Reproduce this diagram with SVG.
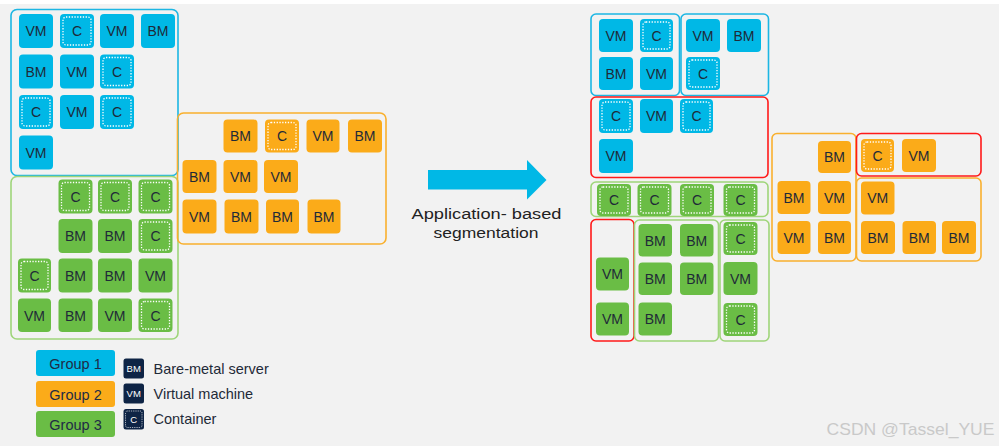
<svg xmlns="http://www.w3.org/2000/svg" width="999" height="446" viewBox="0 0 999 446">
<style>
.bg{fill:#f2f2f2}
.box{fill:none;stroke-width:1.6}
.bb{stroke:#1cb6e3}.gb{stroke:#9fd57a}.ob{stroke:#f9b02e}.rb{stroke:#ff1a1a}
.b{fill:#00b8e6}.g{fill:#6abd45}.o{fill:#fbab19}
.dot{fill:none;stroke:#ffffff;stroke-width:1.3;stroke-dasharray:1.3 1.5}
.t{font-family:"Liberation Sans",Arial,sans-serif;font-size:14px;fill:#1f2a38;text-anchor:middle}
.lg{font-family:"Liberation Sans",Arial,sans-serif;font-size:14.5px;fill:#1f2b45;text-anchor:middle}
.ll{font-family:"Liberation Sans",Arial,sans-serif;font-size:14.5px;fill:#1f2a38}
.li{fill:#0e2445}
.lt{font-family:"Liberation Sans",Arial,sans-serif;font-size:9.5px;fill:#ffffff;text-anchor:middle}
.lbl{font-family:"Liberation Sans",Arial,sans-serif;font-size:15.5px;fill:#222222;text-anchor:middle}
.wm{font-family:"Liberation Sans",Arial,sans-serif;font-size:17px;fill:#c9c9c9}
</style>
<rect x="0" y="0" width="999" height="446" class="bg"/>
<rect x="0" y="0" width="999" height="4" fill="#ffffff"/>

<!-- LEFT: group boxes -->
<g id="left-blue-group"><rect class="box bb" x="11" y="9.5" width="167" height="166" rx="6"/></g>
<g id="left-green-group"><rect class="box gb" x="11" y="176.5" width="167" height="162.5" rx="6"/></g>
<g id="left-orange-group"><rect class="box ob" x="177.5" y="113" width="208.5" height="131" rx="6"/></g>

<!-- left blue tiles -->
<g id="lb1"><rect class="b" x="19" y="14" width="34" height="34" rx="4"/><text class="t" x="36" y="36">VM</text></g>
<g id="lb2"><rect class="b" x="60" y="14" width="34" height="34" rx="4"/><rect class="dot" x="63" y="17" width="28" height="28" rx="3"/><text class="t" x="77" y="36">C</text></g>
<g id="lb3"><rect class="b" x="100" y="14" width="34" height="34" rx="4"/><text class="t" x="117" y="36">VM</text></g>
<g id="lb4"><rect class="b" x="141" y="14" width="34" height="34" rx="4"/><text class="t" x="158" y="36">BM</text></g>
<g id="lb5"><rect class="b" x="19" y="54.5" width="34" height="34" rx="4"/><text class="t" x="36" y="76.5">BM</text></g>
<g id="lb6"><rect class="b" x="60" y="54.5" width="34" height="34" rx="4"/><text class="t" x="77" y="76.5">VM</text></g>
<g id="lb7"><rect class="b" x="100" y="54.5" width="34" height="34" rx="4"/><rect class="dot" x="103" y="57.5" width="28" height="28" rx="3"/><text class="t" x="117" y="76.5">C</text></g>
<g id="lb8"><rect class="b" x="19" y="95" width="34" height="34" rx="4"/><rect class="dot" x="22" y="98" width="28" height="28" rx="3"/><text class="t" x="36" y="117">C</text></g>
<g id="lb9"><rect class="b" x="60" y="95" width="34" height="34" rx="4"/><text class="t" x="77" y="117">VM</text></g>
<g id="lb10"><rect class="b" x="100" y="95" width="34" height="34" rx="4"/><rect class="dot" x="103" y="98" width="28" height="28" rx="3"/><text class="t" x="117" y="117">C</text></g>
<g id="lb11"><rect class="b" x="19" y="135.5" width="34" height="34" rx="4"/><text class="t" x="36" y="157.5">VM</text></g>

<!-- left green tiles -->
<g id="lg1"><rect class="g" x="58.5" y="179.5" width="34" height="34" rx="4"/><rect class="dot" x="61.5" y="182.5" width="28" height="28" rx="3"/><text class="t" x="75.5" y="201.5">C</text></g>
<g id="lg2"><rect class="g" x="98" y="179.5" width="34" height="34" rx="4"/><rect class="dot" x="101" y="182.5" width="28" height="28" rx="3"/><text class="t" x="115" y="201.5">C</text></g>
<g id="lg3"><rect class="g" x="138.5" y="179.5" width="34" height="34" rx="4"/><rect class="dot" x="141.5" y="182.5" width="28" height="28" rx="3"/><text class="t" x="155.5" y="201.5">C</text></g>
<g id="lg4"><rect class="g" x="58.5" y="219" width="34" height="34" rx="4"/><text class="t" x="75.5" y="241">BM</text></g>
<g id="lg5"><rect class="g" x="98" y="219" width="34" height="34" rx="4"/><text class="t" x="115" y="241">BM</text></g>
<g id="lg6"><rect class="g" x="138.5" y="219" width="34" height="34" rx="4"/><rect class="dot" x="141.5" y="222" width="28" height="28" rx="3"/><text class="t" x="155.5" y="241">C</text></g>
<g id="lg7"><rect class="g" x="18" y="258.5" width="33" height="34" rx="4"/><rect class="dot" x="21" y="261.5" width="27" height="28" rx="3"/><text class="t" x="34.5" y="280.5">C</text></g>
<g id="lg8"><rect class="g" x="58.5" y="258.5" width="34" height="34" rx="4"/><text class="t" x="75.5" y="280.5">BM</text></g>
<g id="lg9"><rect class="g" x="98" y="258.5" width="34" height="34" rx="4"/><text class="t" x="115" y="280.5">BM</text></g>
<g id="lg10"><rect class="g" x="138.5" y="258.5" width="34" height="34" rx="4"/><text class="t" x="155.5" y="280.5">VM</text></g>
<g id="lg11"><rect class="g" x="18" y="298.5" width="33" height="33.5" rx="4"/><text class="t" x="34.5" y="320.5">VM</text></g>
<g id="lg12"><rect class="g" x="58.5" y="298.5" width="34" height="33.5" rx="4"/><text class="t" x="75.5" y="320.5">BM</text></g>
<g id="lg13"><rect class="g" x="98" y="298.5" width="34" height="33.5" rx="4"/><text class="t" x="115" y="320.5">VM</text></g>
<g id="lg14"><rect class="g" x="138.5" y="298.5" width="34" height="33.5" rx="4"/><rect class="dot" x="141.5" y="301.5" width="28" height="27.5" rx="3"/><text class="t" x="155.5" y="320.5">C</text></g>

<!-- left orange tiles -->
<g id="lo1"><rect class="o" x="223.5" y="119.5" width="34" height="33" rx="4"/><text class="t" x="240.5" y="141">BM</text></g>
<g id="lo2"><rect class="o" x="265" y="119.5" width="34" height="33" rx="4"/><rect class="dot" x="268" y="122.5" width="28" height="27" rx="3"/><text class="t" x="282" y="141">C</text></g>
<g id="lo3"><rect class="o" x="306.5" y="119.5" width="33" height="33" rx="4"/><text class="t" x="323" y="141">VM</text></g>
<g id="lo4"><rect class="o" x="348" y="119.5" width="34" height="33" rx="4"/><text class="t" x="365" y="141">BM</text></g>
<g id="lo5"><rect class="o" x="182.5" y="160" width="34" height="33" rx="4"/><text class="t" x="199.5" y="181.5">BM</text></g>
<g id="lo6"><rect class="o" x="223.5" y="160" width="34" height="33" rx="4"/><text class="t" x="240.5" y="181.5">VM</text></g>
<g id="lo7"><rect class="o" x="264" y="160" width="34" height="33" rx="4"/><text class="t" x="281" y="181.5">VM</text></g>
<g id="lo8"><rect class="o" x="182.5" y="199.5" width="34" height="34" rx="4"/><text class="t" x="199.5" y="221.5">VM</text></g>
<g id="lo9"><rect class="o" x="224.5" y="199.5" width="34" height="34" rx="4"/><text class="t" x="241.5" y="221.5">BM</text></g>
<g id="lo10"><rect class="o" x="266" y="199.5" width="33" height="34" rx="4"/><text class="t" x="282.5" y="221.5">BM</text></g>
<g id="lo11"><rect class="o" x="307.5" y="199.5" width="33" height="34" rx="4"/><text class="t" x="324" y="221.5">BM</text></g>

<!-- arrow + label -->
<g id="arrow">
<polygon points="428,170 527,170 527,160 546.5,180 527,199.5 527,189.5 428,189.5" fill="#00b8e6"/>
<text class="lbl" x="486.5" y="218.5" textLength="150" lengthAdjust="spacingAndGlyphs">Application- based</text>
<text class="lbl" x="486" y="238" textLength="105" lengthAdjust="spacingAndGlyphs">segmentation</text>
</g>

<!-- RIGHT: group boxes -->
<g id="r-blue1-group"><rect class="box bb" x="591" y="14" width="88.5" height="81.5" rx="5"/></g>
<g id="r-blue2-group"><rect class="box bb" x="681" y="14" width="87.5" height="81.5" rx="5"/></g>
<g id="r-red1-group"><rect class="box rb" x="591" y="97" width="177" height="80.5" rx="5"/></g>
<g id="r-green1-group"><rect class="box gb" x="591" y="182" width="177" height="34.5" rx="5"/></g>
<g id="r-red2-group"><rect class="box rb" x="591" y="219.5" width="43" height="121.5" rx="5"/></g>
<g id="r-green2-group"><rect class="box gb" x="634.5" y="220" width="84" height="121" rx="5"/></g>
<g id="r-green3-group"><rect class="box gb" x="720" y="220" width="49" height="121" rx="5"/></g>
<g id="r-orange1-group"><rect class="box ob" x="772" y="133.5" width="84" height="127.5" rx="5"/></g>
<g id="r-red3-group"><rect class="box rb" x="856.5" y="133.5" width="124.5" height="42.5" rx="5"/></g>
<g id="r-orange2-group"><rect class="box ob" x="856.5" y="178" width="124.5" height="83" rx="5"/></g>

<!-- right blue tiles -->
<g id="rb1"><rect class="b" x="599" y="19" width="34" height="33" rx="4"/><text class="t" x="616" y="40.5">VM</text></g>
<g id="rb2"><rect class="b" x="640" y="19" width="33" height="33" rx="4"/><rect class="dot" x="643" y="22" width="27" height="27" rx="3"/><text class="t" x="656.5" y="40.5">C</text></g>
<g id="rb3"><rect class="b" x="599" y="57" width="34" height="33" rx="4"/><text class="t" x="616" y="78.5">BM</text></g>
<g id="rb4"><rect class="b" x="640" y="57" width="33" height="33" rx="4"/><text class="t" x="656.5" y="78.5">VM</text></g>
<g id="rb5"><rect class="b" x="686" y="19" width="34" height="33" rx="4"/><text class="t" x="703" y="40.5">VM</text></g>
<g id="rb6"><rect class="b" x="727" y="19" width="34" height="33" rx="4"/><text class="t" x="744" y="40.5">BM</text></g>
<g id="rb7"><rect class="b" x="686" y="57" width="34" height="33" rx="4"/><rect class="dot" x="689" y="60" width="28" height="27" rx="3"/><text class="t" x="703" y="78.5">C</text></g>
<g id="rb8"><rect class="b" x="599" y="99" width="34" height="34" rx="4"/><rect class="dot" x="602" y="102" width="28" height="28" rx="3"/><text class="t" x="616" y="121">C</text></g>
<g id="rb9"><rect class="b" x="640" y="99" width="33" height="34" rx="4"/><text class="t" x="656.5" y="121">VM</text></g>
<g id="rb10"><rect class="b" x="680" y="99" width="33" height="34" rx="4"/><rect class="dot" x="683" y="102" width="27" height="28" rx="3"/><text class="t" x="696.5" y="121">C</text></g>
<g id="rb11"><rect class="b" x="599" y="139" width="34" height="34" rx="4"/><text class="t" x="616" y="161">VM</text></g>

<!-- right green tiles -->
<g id="rg1"><rect class="g" x="597" y="184" width="34" height="32" rx="4"/><rect class="dot" x="600" y="187" width="28" height="26" rx="3"/><text class="t" x="614" y="205">C</text></g>
<g id="rg2"><rect class="g" x="637.5" y="184" width="34" height="32" rx="4"/><rect class="dot" x="640.5" y="187" width="28" height="26" rx="3"/><text class="t" x="654.5" y="205">C</text></g>
<g id="rg3"><rect class="g" x="680" y="184" width="34" height="32" rx="4"/><rect class="dot" x="683" y="187" width="28" height="26" rx="3"/><text class="t" x="697" y="205">C</text></g>
<g id="rg4"><rect class="g" x="723.5" y="184" width="34" height="32" rx="4"/><rect class="dot" x="726.5" y="187" width="28" height="26" rx="3"/><text class="t" x="740.5" y="205">C</text></g>
<g id="rg5"><rect class="g" x="596" y="257.5" width="33" height="33" rx="4"/><text class="t" x="612.5" y="279">VM</text></g>
<g id="rg6"><rect class="g" x="596" y="302.5" width="33" height="33" rx="4"/><text class="t" x="612.5" y="324">VM</text></g>
<g id="rg7"><rect class="g" x="638.5" y="224" width="33.5" height="32.5" rx="4"/><text class="t" x="655.2" y="245.5">BM</text></g>
<g id="rg8"><rect class="g" x="680" y="224" width="33.5" height="32.5" rx="4"/><text class="t" x="696.7" y="245.5">BM</text></g>
<g id="rg9"><rect class="g" x="638.5" y="262.5" width="33.5" height="32.5" rx="4"/><text class="t" x="655.2" y="284">BM</text></g>
<g id="rg10"><rect class="g" x="680" y="262.5" width="33.5" height="32.5" rx="4"/><text class="t" x="696.7" y="284">BM</text></g>
<g id="rg11"><rect class="g" x="638.5" y="302.5" width="33.5" height="33" rx="4"/><text class="t" x="655.2" y="324">BM</text></g>
<g id="rg12"><rect class="g" x="723.5" y="222" width="34" height="33" rx="4"/><rect class="dot" x="726.5" y="225" width="28" height="27" rx="3"/><text class="t" x="740.5" y="243.5">C</text></g>
<g id="rg13"><rect class="g" x="723.5" y="262" width="34" height="33" rx="4"/><text class="t" x="740.5" y="283.5">VM</text></g>
<g id="rg14"><rect class="g" x="723.5" y="303" width="34" height="33" rx="4"/><rect class="dot" x="726.5" y="306" width="28" height="27" rx="3"/><text class="t" x="740.5" y="324.5">C</text></g>

<!-- right orange tiles -->
<g id="ro1"><rect class="o" x="818" y="141" width="33" height="32" rx="4"/><text class="t" x="834.5" y="162">BM</text></g>
<g id="ro2"><rect class="o" x="777.5" y="181" width="33" height="33" rx="4"/><text class="t" x="794" y="202.5">BM</text></g>
<g id="ro3"><rect class="o" x="818" y="181" width="33" height="33" rx="4"/><text class="t" x="834.5" y="202.5">VM</text></g>
<g id="ro4"><rect class="o" x="777.5" y="221" width="33" height="33" rx="4"/><text class="t" x="794" y="242.5">VM</text></g>
<g id="ro5"><rect class="o" x="818" y="221" width="33" height="33" rx="4"/><text class="t" x="834.5" y="242.5">BM</text></g>
<g id="ro6"><rect class="o" x="861" y="139" width="33" height="33" rx="4"/><rect class="dot" x="864" y="142" width="27" height="27" rx="3"/><text class="t" x="877.5" y="160.5">C</text></g>
<g id="ro7"><rect class="o" x="902" y="139" width="34" height="33" rx="4"/><text class="t" x="919" y="160.5">VM</text></g>
<g id="ro8"><rect class="o" x="861" y="181.5" width="33.5" height="33" rx="4"/><text class="t" x="877.7" y="203">VM</text></g>
<g id="ro9"><rect class="o" x="861" y="221" width="34" height="33" rx="4"/><text class="t" x="878" y="242.5">BM</text></g>
<g id="ro10"><rect class="o" x="902.5" y="221" width="33.5" height="33" rx="4"/><text class="t" x="919.2" y="242.5">BM</text></g>
<g id="ro11"><rect class="o" x="942" y="221" width="34" height="33" rx="4"/><text class="t" x="959" y="242.5">BM</text></g>

<!-- legend -->
<g id="legend-group1"><rect class="b" x="36" y="350" width="79" height="26" rx="3"/><text class="lg" x="75.5" y="368.5">Group 1</text></g>
<g id="legend-group2"><rect class="o" x="36" y="381" width="79" height="26" rx="3"/><text class="lg" x="75.5" y="399.5">Group 2</text></g>
<g id="legend-group3"><rect class="g" x="36" y="411" width="79" height="26" rx="3"/><text class="lg" x="75.5" y="429.5">Group 3</text></g>
<g id="legend-bm"><rect class="li" x="123.5" y="358.5" width="20.5" height="20" rx="2.5"/><text class="lt" x="133.7" y="372">BM</text><text class="ll" x="153.5" y="373.5">Bare-metal server</text></g>
<g id="legend-vm"><rect class="li" x="123.5" y="383.5" width="20.5" height="20" rx="2.5"/><text class="lt" x="133.7" y="397">VM</text><text class="ll" x="153.5" y="398.5">Virtual machine</text></g>
<g id="legend-c"><rect class="li" x="123.5" y="409" width="20.5" height="20.5" rx="2.5"/><rect x="125.5" y="411" width="16.5" height="16.5" rx="2" fill="none" stroke="#ffffff" stroke-width="0.8" stroke-dasharray="0.8 1"/><text class="lt" x="133.7" y="422.5">C</text><text class="ll" x="153.5" y="424">Container</text></g>

<text class="wm" x="826.5" y="434.5" textLength="168" lengthAdjust="spacingAndGlyphs">CSDN @Tassel_YUE</text>
</svg>
